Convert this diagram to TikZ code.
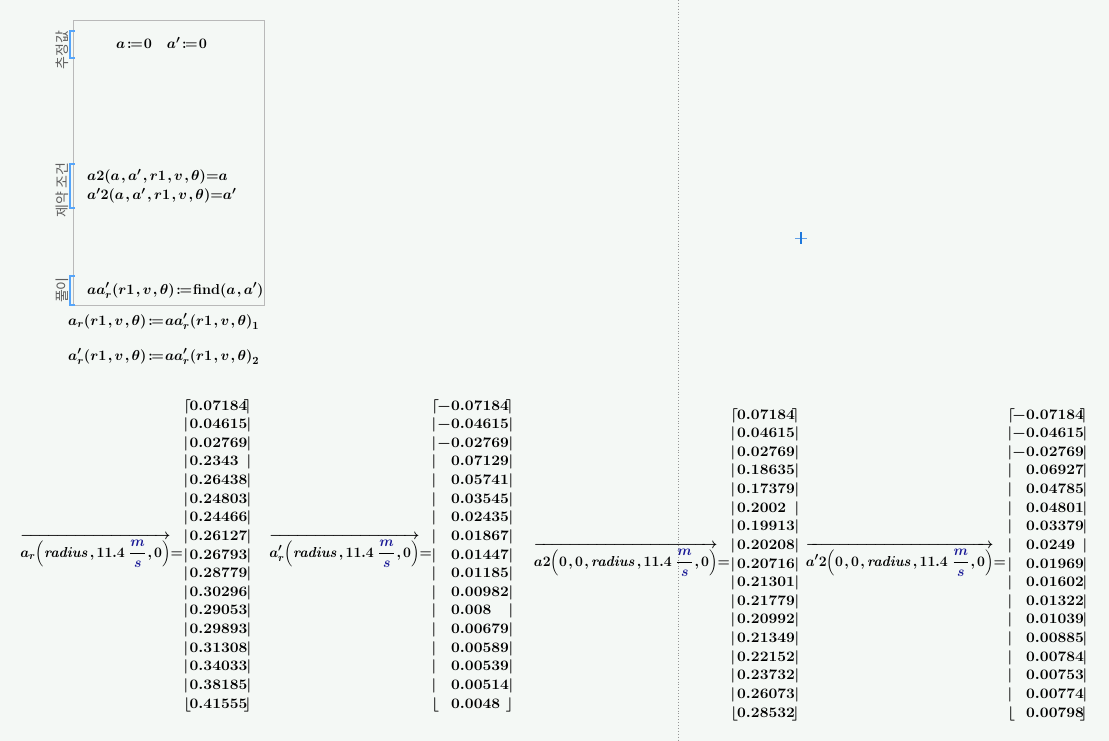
\documentclass[tikz,border=0pt]{standalone}
\usepackage{amsmath}
\usepackage[no-math]{fontspec}
\newfontfamily\kor{Noto Sans CJK KR}
\definecolor{bg}{RGB}{244,248,245}
\definecolor{boxgray}{RGB}{185,185,185}
\definecolor{brblue}{RGB}{85,165,250}
\definecolor{unitblue}{RGB}{25,25,150}
\definecolor{crossblue}{RGB}{30,120,220}
\definecolor{lblgray}{RGB}{95,95,95}
\definecolor{dotgray}{RGB}{150,150,150}
\newcommand{\mcdef}{\mkern2mu{:}\mkern-1.5mu{=}\mkern1mu}
\newcommand{\cm}{\mkern1.5mu{,}\mkern2.5mu}
\newcommand{\ms}{\dfrac{\color{unitblue}m}{\color{unitblue}s}}
\newcommand{\pa}[1]{{\left(#1\right)}}
\newcommand{\Pa}[1]{{\Bigl(#1\Bigr)}}
\newcommand{\mt}[1]{\scalebox{1.085}[1]{$#1$}}
\newcommand{\evx}[1]{\scalebox{0.975}[1]{$#1$}}
\newcommand{\mcmat}[6]{%
  \foreach \v [count=\i] in {#6} {
    \pgfmathsetmacro{\yy}{#5+(\i-1)*18.63}
    \node[mc,anchor=base west] (#1l\i) at (#2-1.5,\yy) {$\ifnum\i=1 \lceil\else\ifnum\i=17 \lfloor\else\vert\fi\fi$};
    \node[mc] (#1n\i) at (#3,\yy) {\mt{\v}};
    \node[mc,anchor=base east] (#1r\i) at (#4+1.5,\yy) {$\ifnum\i=1 \rceil\else\ifnum\i=17 \rfloor\else\vert\fi\fi$};
  }}
\tikzset{
  mc/.style={font=\fontsize{15}{18}\selectfont\boldmath, inner sep=0pt, anchor=base west},
  ev/.style={mc, anchor=base east},
  kl/.style={font=\kor\fontsize{14}{14}\selectfont, text=lblgray, rotate=90, inner sep=0pt},
  brk/.style={draw=brblue, line width=1.5pt},
}
\begin{document}
\begin{tikzpicture}[x=1pt,y=-1pt]
\fill[bg] (0,0) rectangle (1109,741);
\useasboundingbox (0,0) rectangle (1109,741);
% divider and cursor
\draw[dotgray, dotted, line width=0.9pt] (678,0) -- (678,741);
\draw[crossblue!70, line width=0.8pt] (795,238) -- (807,238);
\draw[crossblue, line width=1.4pt] (801,232) -- (801,244);
% solve block
\node[draw=boxgray, line width=0.8pt, minimum width=191, minimum height=285, anchor=north west, inner sep=0pt] (area) at (73,20) {};
\draw[brk] (74.5,31) -- (70,31) -- (70,58) -- (74.5,58);
\draw[brk] (74.5,164) -- (70,164) -- (70,208) -- (74.5,208);
\draw[brk] (74.5,276) -- (70,276) -- (70,305) -- (74.5,305);
\node[kl] (k1) at (62,50) {추정값};
\node[kl] (k2) at (62,190) {제약 조건};
\node[kl] (k3) at (62,290) {풀이};
\node[mc] (guess) at (116,49) {$a\mcdef0\quad a'\mcdef0$};
\node[mc] (c1) at (87,181) {$a2\pa{a\cm a'\cm r1\cm v\cm\theta}{=}a$};
\node[mc] (c2) at (87,200) {$a'2\pa{a\cm a'\cm r1\cm v\cm\theta}{=}a'$};
\node[mc] (sol) at (87,294) {$aa'_r\pa{r1\cm v\cm\theta}\mcdef\mathbf{find}\pa{a\cm a'}$};
\node[mc] (ar) at (68,325) {$a_r\pa{r1\cm v\cm\theta}\mcdef aa'_r\pa{r1\cm v\cm\theta}_1$};
\node[mc] (apr) at (68,360) {$a'_r\pa{r1\cm v\cm\theta}\mcdef aa'_r\pa{r1\cm v\cm\theta}_2$};
% evaluations
\node[ev] (e1) at (183,557) {\evx{\overrightarrow{a_r\Pa{\mathit{radius}\cm 11.4\;\ms\cm 0}}{=}}};
\node[ev] (e2) at (432,557) {\evx{\overrightarrow{a'_r\Pa{\mathit{radius}\cm 11.4\;\ms\cm 0}}{=}}};
\node[ev] (e3) at (730,566) {\evx{\overrightarrow{a2\Pa{0\cm 0\cm \mathit{radius}\cm 11.4\;\ms\cm 0}}{=}}};
\node[ev] (e4) at (1006,566) {\evx{\overrightarrow{a'2\Pa{0\cm 0\cm \mathit{radius}\cm 11.4\;\ms\cm 0}}{=}}};
\mcmat{ma}{185}{189.5}{250}{410}{0.07184,0.04615,0.02769,0.2343,0.26438,0.24803,0.24466,0.26127,0.26793,0.28779,0.30296,0.29053,0.29893,0.31308,0.34033,0.38185,0.41555}
\mcmat{mb}{433}{451}{512}{410}{\llap{$-$}0.07184,\llap{$-$}0.04615,\llap{$-$}0.02769,0.07129,0.05741,0.03545,0.02435,0.01867,0.01447,0.01185,0.00982,0.008,0.00679,0.00589,0.00539,0.00514,0.0048}
\mcmat{mc}{732}{737}{798}{419}{0.07184,0.04615,0.02769,0.18635,0.17379,0.2002,0.19913,0.20208,0.20716,0.21301,0.21779,0.20992,0.21349,0.22152,0.23732,0.26073,0.28532}
\mcmat{md}{1009}{1026}{1086}{419}{\llap{$-$}0.07184,\llap{$-$}0.04615,\llap{$-$}0.02769,0.06927,0.04785,0.04801,0.03379,0.0249,0.01969,0.01602,0.01322,0.01039,0.00885,0.00784,0.00753,0.00774,0.00798}
\end{tikzpicture}
\end{document}
